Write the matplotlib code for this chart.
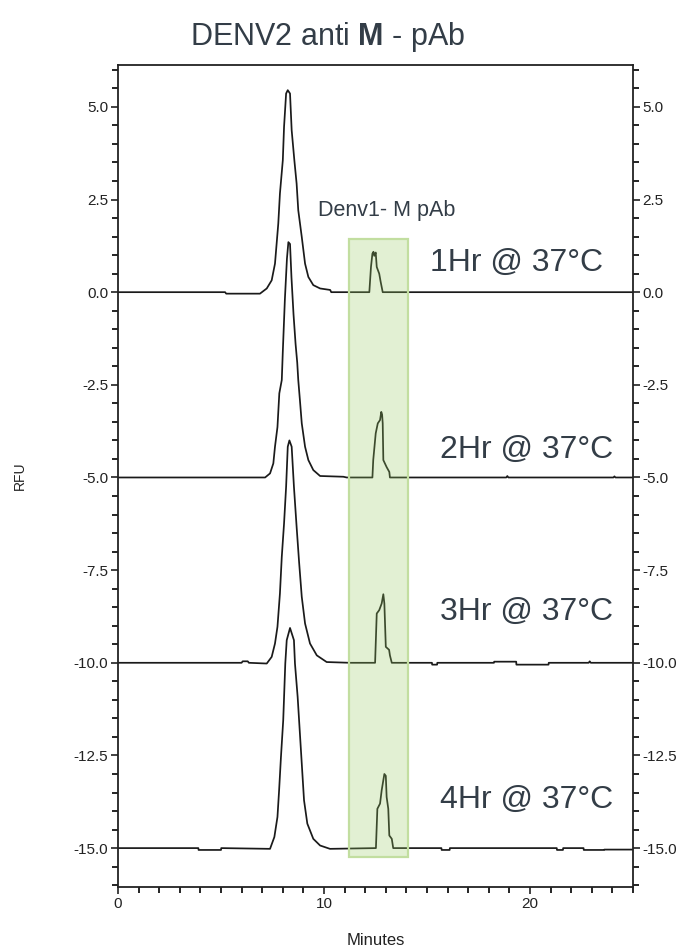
import matplotlib
matplotlib.use('Agg')
import matplotlib.pyplot as plt
from matplotlib.patches import Rectangle
from matplotlib.ticker import MultipleLocator, FormatStrFormatter

plt.rcParams['font.family'] = ['Liberation Sans', 'DejaVu Sans']
plt.rcParams['mathtext.fontset'] = 'custom'
plt.rcParams['mathtext.rm'] = 'Liberation Sans'
plt.rcParams['mathtext.bf'] = 'Liberation Sans:bold'

t_1hr = [0, 5.2, 5.25, 6.89, 7.22, 7.46, 7.62, 7.78, 7.86, 8.0, 8.06, 8.16, 8.24, 8.35, 8.43,
         8.56, 8.67, 8.75, 8.92, 9.08, 9.24, 9.48, 9.81, 10.3, 10.35, 11.1, 12.2, 12.28, 12.35,
         12.40, 12.44, 12.51, 12.56, 12.68, 12.75, 12.85, 25.0]
y_1hr = [0, 0, -0.04, -0.04, 0.10, 0.32, 0.77, 1.85, 2.66, 3.56, 4.46, 5.36, 5.45, 5.36, 4.37,
         3.56, 2.93, 2.21, 1.49, 0.77, 0.41, 0.19, 0.10, 0.06, 0.0, 0.0, 0.0, 0.68, 1.04,
         1.09, 0.98, 1.07, 0.68, 0.50, 0.28, 0.0, 0.0]

t_2hr = [0, 7.14, 7.38, 7.54, 7.62, 7.74, 7.83, 7.95, 8.0, 8.1, 8.2, 8.27, 8.35, 8.42, 8.52,
         8.62, 8.7, 8.75, 8.83, 8.92, 9.08, 9.24, 9.48, 9.81, 10.94, 11.1, 12.35, 12.39, 12.51,
         12.61, 12.72, 12.78, 12.82, 12.85, 12.88, 13.04, 13.17, 13.2, 18.85, 18.9, 18.95,
         24.05, 24.1, 24.15, 25.0]
y_2hr = [-5.0, -5.0, -4.89, -4.62, -4.17, -3.64, -2.73, -2.37, -1.6, -0.2, 0.9, 1.35, 1.3, 0.4, -0.6,
         -1.4, -1.9, -2.37, -2.91, -3.54, -4.17, -4.53, -4.80, -4.96, -4.98, -5.0, -5.0, -4.53, -3.81,
         -3.54, -3.45, -3.23, -3.30, -3.54, -4.53, -4.72, -4.85, -5.0, -5.0, -4.96, -5.0,
         -5.0, -4.97, -5.0, -5.0]

t_3hr = [0, 6.0, 6.05, 6.3, 6.35, 7.22, 7.46, 7.62, 7.74, 7.86, 7.95, 8.06, 8.16, 8.24, 8.32,
         8.43, 8.54, 8.67, 8.79, 8.92, 9.08, 9.32, 9.65, 10.13, 11.26, 12.48, 12.56, 12.68, 12.80,
         12.88, 12.93, 13.0, 13.16, 13.2, 13.29, 15.24, 15.25, 15.49, 15.5, 18.25, 18.26, 19.33,
         19.34, 20.9, 20.91, 22.85, 22.9, 22.95, 25.0]
y_3hr = [-10.0, -10.0, -9.96, -9.96, -10.0, -10.02, -9.84, -9.48, -9.03, -8.13, -7.14, -6.24, -5.25, -4.17, -4.0,
         -4.17, -5.25, -6.33, -7.28, -8.22, -8.94, -9.48, -9.80, -9.98, -10.0, -10.0, -8.67, -8.58, -8.40,
         -8.15, -8.40, -9.57, -9.65, -9.80, -10.0, -10.0, -10.05, -10.05, -10.0, -10.0, -9.97, -9.97,
         -10.05, -10.05, -10.0, -10.0, -9.96, -10.0, -10.0]

t_4hr = [0, 3.9, 3.91, 5.0, 5.01, 7.38, 7.59, 7.74, 7.82, 7.91, 8.02, 8.12, 8.19, 8.35, 8.54,
         8.59, 8.72, 8.83, 8.92, 9.03, 9.19, 9.48, 9.81, 10.29, 12.52, 12.59, 12.72, 12.80, 12.93,
         13.0, 13.04, 13.12, 13.17, 13.29, 13.36, 15.0, 15.7, 15.71, 16.1, 16.11, 21.3, 21.31,
         21.6, 21.61, 22.6, 22.61, 23.6, 23.61, 25.0]
y_4hr = [-15.0, -15.0, -15.05, -15.05, -15.0, -15.02, -14.70, -14.16, -13.44, -12.54, -11.55, -10.02, -9.39, -9.06, -9.39,
         -10.02, -10.92, -11.91, -12.72, -13.71, -14.34, -14.75, -14.93, -15.02, -15.0, -13.94, -13.80, -13.44, -13.0,
         -13.05, -13.62, -13.94, -14.66, -14.75, -15.0, -15.0, -15.0, -15.05, -15.05, -15.0, -15.0, -15.05,
         -15.05, -15.0, -15.0, -15.05, -15.05, -15.04, -15.04]

traces = [(t_1hr, y_1hr), (t_2hr, y_2hr), (t_3hr, y_3hr), (t_4hr, y_4hr)]
labels = ['1Hr @ 37°C', '2Hr @ 37°C', '3Hr @ 37°C', '4Hr @ 37°C']
label_pos = [(15.15, 0.78), (15.63, -4.26), (15.63, -8.64), (15.63, -13.71)]

txt_col = '#333d47'

fig = plt.figure(figsize=(6.89, 9.5), dpi=100)
ax = fig.add_axes([0.1713, 0.0663, 0.7474, 0.8653])

for t, y in traces:
    ax.plot(t, y, color='#1a1a1a', lw=1.25, zorder=2)

# highlighted region
ax.add_patch(Rectangle((11.2, -15.24), 2.9, 16.67, facecolor='#97ca61', alpha=0.28,
                       edgecolor='none', zorder=3))
ax.add_patch(Rectangle((11.2, -15.24), 2.9, 16.67, facecolor='none', edgecolor='#c2deA0',
                       lw=1.6, zorder=3))

for lab, (x, y) in zip(labels, label_pos):
    ax.text(x, y, lab, fontsize=23, color=txt_col, va='center', ha='left')
ax.text(9.71, 2.21, 'Denv1- M pAb', fontsize=15.5, color=txt_col, va='center', ha='left')

ax.set_xlim(0, 25.0)
ax.set_ylim(-16.05, 6.13)
ax.xaxis.set_major_locator(MultipleLocator(10))
ax.xaxis.set_minor_locator(MultipleLocator(1))
ax.yaxis.set_major_locator(MultipleLocator(2.5))
ax.yaxis.set_minor_locator(MultipleLocator(0.5))
ax.yaxis.set_major_formatter(FormatStrFormatter('%.1f'))
ax.tick_params(axis='y', which='both', left=True, right=True, labelleft=True, labelright=True,
               direction='out')
ax.tick_params(axis='x', which='both', top=False, direction='out')
ax.tick_params(which='major', length=5, width=1.2, labelsize=11, pad=2, colors='#222222')
ax.tick_params(which='minor', length=4, width=1.2)
for s in ax.spines.values():
    s.set_linewidth(1.3)
    s.set_color('#222222')

ax.set_xlabel('Minutes', fontsize=12, color='#222222', labelpad=16)
fig.text(20 / 689, 1 - 476 / 950, 'RFU', rotation=90, fontsize=10, color='#222222',
         ha='center', va='center')
fig.text(328 / 689, 1 - 37 / 950, r'DENV2 anti $\mathbf{M}$ - pAb',
         fontsize=22, color=txt_col, ha='center', va='center')

fig.savefig('out.png', dpi=100)
